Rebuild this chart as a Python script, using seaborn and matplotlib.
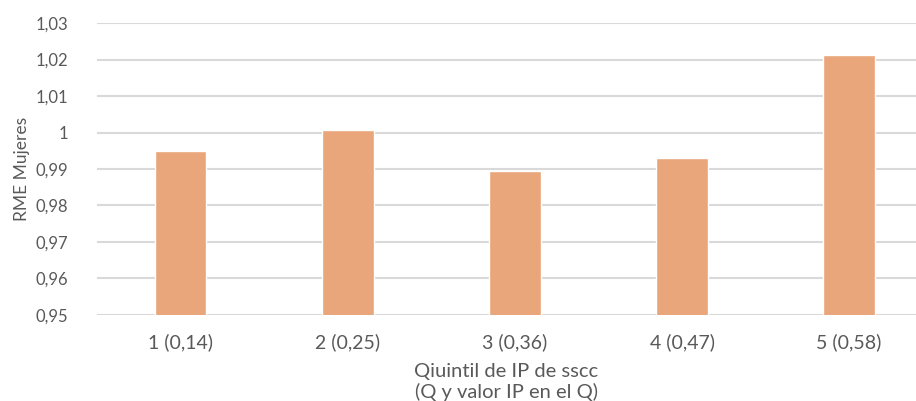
import matplotlib
matplotlib.use("Agg")
import matplotlib.pyplot as plt
import seaborn as sns
import pandas as pd

# Data
quintiles = ["1 (0,14)", "2 (0,25)", "3 (0,36)", "4 (0,47)", "5 (0,58)"]
rme_mujeres = [0.9949, 1.0007, 0.9895, 0.9930, 1.0213]
y_ticks = [0.95, 0.96, 0.97, 0.98, 0.99, 1.00, 1.01, 1.02, 1.03]
y_tick_labels = ["0,95", "0,96", "0,97", "0,98", "0,99", "1", "1,01", "1,02", "1,03"]

sns.set_theme(style="white")
plt.rcParams["font.family"] = ["Lato", "DejaVu Sans"]

df = pd.DataFrame({"quintil": quintiles, "rme": rme_mujeres})

fig = plt.figure(figsize=(9.16, 4.01), dpi=100)
ax = fig.add_axes([0.1059, 0.2145, 0.8941, 0.7281])

grey = "#595959"
grid = "#d9d9d9"

for t in y_ticks:
    ax.axhline(t, color=grid, lw=1.5, zorder=0)

sns.barplot(data=df, x="quintil", y="rme", color="#E9A67A", saturation=1,
            width=0.31, ax=ax, zorder=2)

ax.set_ylim(0.95, 1.03)
ax.set_xlim(-0.5, 4.40)
ax.set_yticks(y_ticks)
ax.set_yticklabels(y_tick_labels)
ax.tick_params(axis="y", length=0, pad=21, labelsize=12, labelcolor=grey)
ax.tick_params(axis="x", length=0, pad=13, labelsize=14, labelcolor=grey)

for s in ax.spines.values():
    s.set_visible(False)

ax.set_xlabel("Qiuintil de IP de sscc\n(Q y valor IP en el Q)", fontsize=14.5,
              color=grey, labelpad=9, linespacing=1.15)
ax.set_ylabel("RME Mujeres", fontsize=12.5, color=grey, labelpad=4)

fig.savefig("out.png", dpi=100, facecolor="white")
